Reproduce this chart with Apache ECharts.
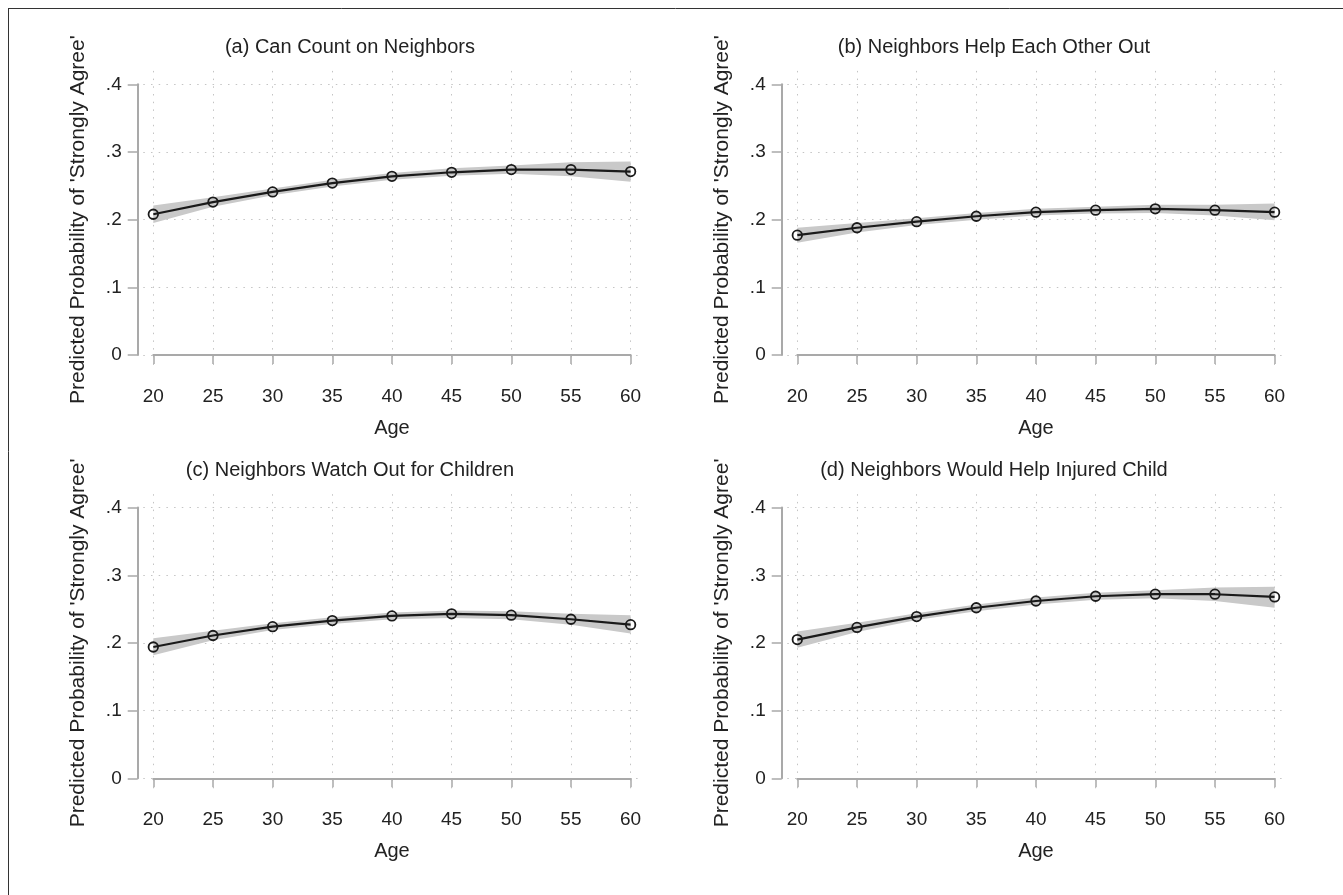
<!DOCTYPE html>
<html>
<head>
<meta charset="utf-8">
<script src="https://cdn.jsdelivr.net/npm/echarts@6/dist/echarts.min.js"></script>
<style>
html,body{margin:0;padding:0;background:#fff;}
#chart{width:1343px;height:895px;}
</style>
</head>
<body>
<div id="chart"></div>
<script>
// ---- data ----
const ages = [20, 25, 30, 35, 40, 45, 50, 55, 60];
const xTicks = [20, 25, 30, 35, 40, 45, 50, 55, 60];
const yTicks = [0, 0.1, 0.2, 0.3, 0.4];
const yTickLabels = ['0', '.1', '.2', '.3', '.4'];

const titles = [
  '(a) Can Count on Neighbors',
  '(b) Neighbors Help Each Other Out',
  '(c) Neighbors Watch Out for Children',
  '(d) Neighbors Would Help Injured Child'
];

const aMid = [0.208, 0.226, 0.241, 0.254, 0.264, 0.270, 0.274, 0.274, 0.271];
const aLo  = [0.195, 0.219, 0.236, 0.249, 0.259, 0.265, 0.268, 0.264, 0.256];
const aHi  = [0.221, 0.233, 0.246, 0.259, 0.269, 0.276, 0.280, 0.285, 0.286];

const bMid = [0.177, 0.188, 0.197, 0.205, 0.211, 0.214, 0.216, 0.214, 0.211];
const bLo  = [0.166, 0.181, 0.192, 0.200, 0.206, 0.209, 0.210, 0.206, 0.199];
const bHi  = [0.188, 0.195, 0.202, 0.210, 0.216, 0.219, 0.222, 0.222, 0.224];

const cMid = [0.194, 0.211, 0.224, 0.233, 0.240, 0.243, 0.241, 0.235, 0.227];
const cLo  = [0.182, 0.204, 0.219, 0.228, 0.235, 0.237, 0.235, 0.227, 0.214];
const cHi  = [0.207, 0.218, 0.229, 0.238, 0.245, 0.248, 0.247, 0.243, 0.241];

const dMid = [0.205, 0.223, 0.239, 0.252, 0.262, 0.269, 0.272, 0.272, 0.268];
const dLo  = [0.193, 0.216, 0.234, 0.247, 0.257, 0.264, 0.266, 0.262, 0.252];
const dHi  = [0.217, 0.230, 0.244, 0.257, 0.267, 0.274, 0.278, 0.282, 0.283];

const xName = 'Age';
const yName = "Predicted Probability of 'Strongly Agree'";

// ---- layout ----
const FONT = "'Liberation Sans', Arial, Helvetica, sans-serif";
const TXT = '#222';
const AXC = '#a9a9a9';
const GRIDC = '#c4c4c4';
const W = 477.3, H = 270.7;
const pads = {l: 10, r: 10, t: 16, b: 10};
const panelPos = [
  {left: 153.3, top: 84.3},
  {left: 797.3, top: 84.3},
  {left: 153.3, top: 507.6},
  {left: 797.3, top: 507.6}
];
const panelData = [
  [aMid, aLo, aHi], [bMid, bLo, bHi], [cMid, cLo, cHi], [dMid, dLo, dHi]
];

const grid = [], xAxis = [], yAxis = [], series = [], title = [];

panelPos.forEach((p, i) => {
  const [mid, lo, hi] = panelData[i];
  grid.push({left: p.left, top: p.top, width: W, height: H, containLabel: false});
  grid.push({left: p.left - pads.l, top: p.top - pads.t, width: W + pads.l + pads.r, height: H + pads.t + pads.b, containLabel: false});
  const gA = 2 * i, gP = 2 * i + 1;
  const pxX = W / 40, pxY = H / 0.4;

  xAxis.push({
    gridIndex: gA, type: 'value', min: 20, max: 60, interval: 5, offset: 16,
    axisLine: {show: true, lineStyle: {color: AXC, width: 2}},
    axisTick: {show: true, length: 9, lineStyle: {color: AXC, width: 1.5}},
    axisLabel: {show: true, margin: 16, fontSize: 19, color: TXT, fontFamily: FONT},
    splitLine: {show: false},
    name: xName, nameLocation: 'middle', nameGap: 47,
    nameTextStyle: {fontSize: 20, color: TXT, fontFamily: FONT}
  });
  yAxis.push({
    gridIndex: gA, type: 'value', min: 0, max: 0.4, interval: 0.1, offset: 15.6,
    axisLine: {show: true, lineStyle: {color: AXC, width: 2}},
    axisTick: {show: true, length: 10, lineStyle: {color: AXC, width: 1.5}},
    axisLabel: {show: true, margin: 16, fontSize: 19, color: TXT, fontFamily: FONT,
      formatter: v => yTickLabels[yTicks.findIndex(t => Math.abs(t - v) < 1e-9)] ?? ''},
    splitLine: {show: false},
    name: yName, nameLocation: 'middle', nameRotate: 90, nameGap: 49,
    nameTextStyle: {fontSize: 21, color: TXT, fontFamily: FONT}
  });
  xAxis.push({
    gridIndex: gP, type: 'value', show: false,
    min: 20 - pads.l / pxX, max: 60 + pads.r / pxX
  });
  yAxis.push({
    gridIndex: gP, type: 'value', show: false,
    min: 0 - pads.b / pxY, max: 0.4 + pads.t / pxY
  });
  const xi = 2 * i + 1, yi = 2 * i + 1;

  const gridLines = xTicks.map(v => ({xAxis: v})).concat(yTicks.map(v => ({yAxis: v})));

  // confidence band drawn as one polygon through the axis scale
  series.push({
    type: 'custom', xAxisIndex: xi, yAxisIndex: yi, z: 1, silent: true,
    data: ages.map((a, k) => [a, lo[k], hi[k]]),
    encode: {x: 0, y: [1, 2]},
    renderItem: function (params, api) {
      if (params.dataIndex !== 0) return null;
      const upper = ages.map((a, k) => api.coord([a, hi[k]]));
      const lower = ages.map((a, k) => api.coord([a, lo[k]])).reverse();
      return {
        type: 'polygon',
        shape: {points: upper.concat(lower)},
        style: {fill: '#c9c9c9', stroke: 'none'}
      };
    },
    markLine: {
      silent: true, symbol: ['none', 'none'], label: {show: false},
      lineStyle: {color: GRIDC, width: 1, type: [1.5, 6.2]},
      emphasis: {disabled: true},
      z: 0,
      data: gridLines
    }
  });
  series.push({
    type: 'line', xAxisIndex: xi, yAxisIndex: yi, z: 3,
    data: ages.map((a, k) => [a, mid[k]]),
    symbol: 'circle', symbolSize: 9.5, clip: false,
    lineStyle: {color: '#1a1a1a', width: 2.2},
    itemStyle: {color: 'rgba(0,0,0,0)', borderColor: '#1a1a1a', borderWidth: 1.8}
  });

  title.push({
    text: titles[i], left: p.left + W / 2 - 42, top: p.top - 37,
    textAlign: 'center', textVerticalAlign: 'middle', padding: 0,
    textStyle: {fontSize: 20, fontWeight: 'normal', color: TXT, fontFamily: FONT}
  });
});

const chart = echarts.init(document.getElementById('chart'), null, {renderer: 'canvas'});
chart.setOption({
  backgroundColor: '#fff',
  animation: false,
  title, grid, xAxis, yAxis, series,
  graphic: [
    {type: 'line', shape: {x1: 8, y1: 8.5, x2: 1343, y2: 8.5}, style: {stroke: '#333', lineWidth: 1}},
    {type: 'line', shape: {x1: 8.5, y1: 8, x2: 8.5, y2: 895}, style: {stroke: '#333', lineWidth: 1}}
  ]
});
</script>
</body>
</html>
